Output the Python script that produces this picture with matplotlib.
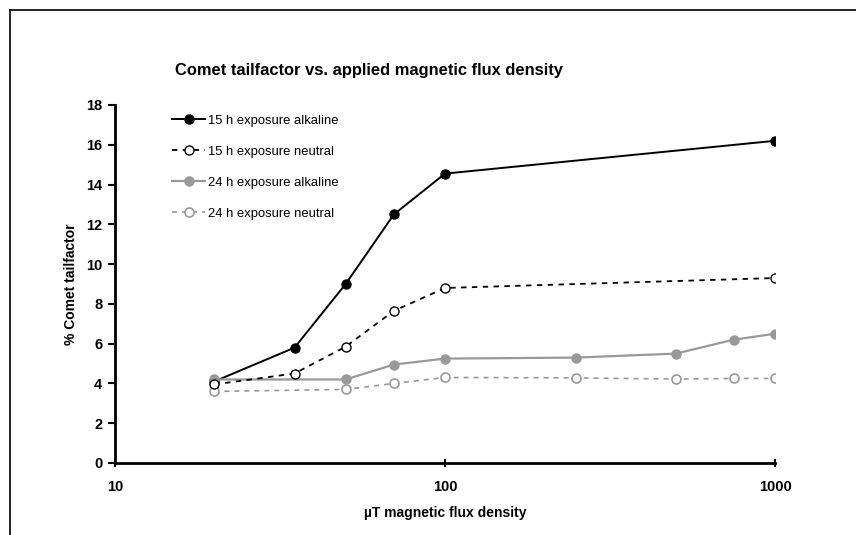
import matplotlib
matplotlib.use("Agg")
import matplotlib.pyplot as plt
from matplotlib.lines import Line2D
from matplotlib.ticker import FixedLocator, NullLocator, FixedFormatter

plt.rcParams['font.family'] = ['Liberation Sans', 'DejaVu Sans']

x_15 = [20, 35, 50, 70, 100, 1000]
alk_15 = [4.1, 5.8, 9.0, 12.5, 14.55, 16.2]
neu_15 = [3.95, 4.5, 5.85, 7.65, 8.8, 9.3]

x_24 = [20, 50, 70, 100, 250, 500, 750, 1000]
alk_24 = [4.2, 4.2, 4.95, 5.25, 5.3, 5.5, 6.2, 6.5]
neu_24 = [3.6, 3.7, 4.0, 4.3, 4.28, 4.22, 4.25, 4.25]

labels = ["15 h exposure alkaline", "15 h exposure neutral",
          "24 h exposure alkaline", "24 h exposure neutral"]
title = "Comet tailfactor vs. applied magnetic flux density"
xlabel = "\u00b5T magnetic flux density"
ylabel = "% Comet tailfactor"
yticks = [0, 2, 4, 6, 8, 10, 12, 14, 16, 18]
xticks = [10, 100, 1000]

W, H = 856, 535
fig = plt.figure(figsize=(W / 100, H / 100), dpi=100)
ax = fig.add_axes([115 / W, 1 - 463 / H, (775 - 115) / W, (463 - 105) / H])

gray = '#999999'
ms = 6.5
l24n, = ax.plot(x_24, neu_24, color=gray, lw=1.2, ls=(0, (3, 3)), marker='o', ms=ms,
                mfc='white', mec=gray, mew=1.2, zorder=2)
l15a, = ax.plot(x_15, alk_15, color='black', lw=1.4, ls='-', marker='o', ms=ms,
                mfc='black', mec='black', zorder=1)
l15n, = ax.plot(x_15, neu_15, color='black', lw=1.3, ls=(0, (3, 3)), marker='o', ms=ms,
                mfc='white', mec='black', mew=1.0, zorder=4)
l24a, = ax.plot(x_24, alk_24, color=gray, lw=1.6, ls='-', marker='o', ms=ms,
                mfc=gray, mec=gray, zorder=3)

ax.set_xscale('log')
ax.set_xlim(10, 1000)
ax.set_ylim(0, 18)
ax.xaxis.set_major_locator(FixedLocator(xticks))
ax.xaxis.set_major_formatter(FixedFormatter([str(t) for t in xticks]))
ax.xaxis.set_minor_locator(NullLocator())
ax.set_yticks(yticks)
ax.set_yticklabels([str(t) for t in yticks])

for s in ['top', 'right']:
    ax.spines[s].set_visible(False)
for s in ['left', 'bottom']:
    ax.spines[s].set_linewidth(2.0)
ax.tick_params(axis='y', direction='out', length=5, width=1.5, labelsize=10.5, pad=4)
ax.tick_params(axis='x', direction='inout', length=6, width=1.5, labelsize=10.5, pad=9)
for lbl in ax.get_xticklabels() + ax.get_yticklabels():
    lbl.set_fontweight('bold')

ax.set_xlabel(xlabel, fontsize=10, fontweight='bold', labelpad=9)
ax.set_ylabel(ylabel, fontsize=10, fontweight='bold', labelpad=6)

fig.text(175 / W, 1 - 70 / H, title, fontsize=11.9, fontweight='bold',
         va='center', ha='left')

ax.legend([l15a, l15n, l24a, l24n], labels,
          loc='upper left', bbox_to_anchor=(0.075, 0.995), frameon=False,
          fontsize=9.4, handlelength=2.5, handletextpad=0.25,
          labelspacing=1.45, borderaxespad=0.2)

# outer frame
fig.add_artist(Line2D([9.5 / W, 9.5 / W], [1 - 9.5 / H, 0], transform=fig.transFigure,
                      color='black', lw=1.2))
fig.add_artist(Line2D([9.5 / W, 1.0], [1 - 9.5 / H, 1 - 9.5 / H], transform=fig.transFigure,
                      color='black', lw=1.2))

fig.savefig('out.png', dpi=100)
